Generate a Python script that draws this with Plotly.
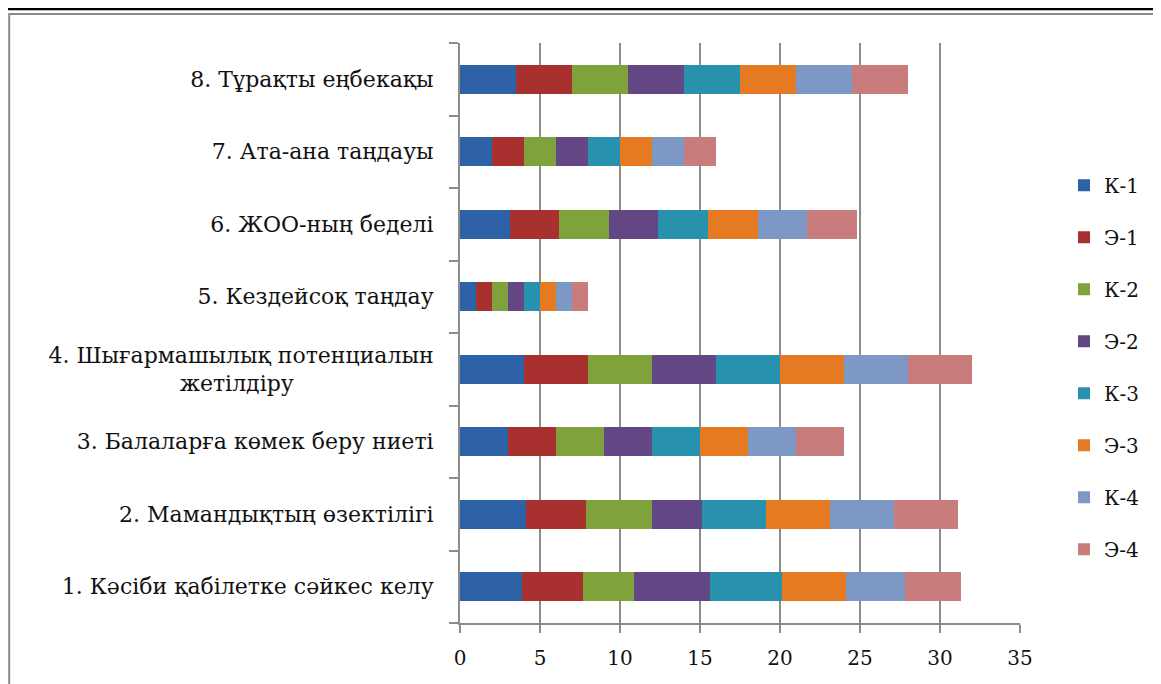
import plotly.graph_objects as go

categories = [
    "1. Кәсіби қабілетке сәйкес келу",
    "2. Мамандықтың өзектілігі",
    "3. Балаларға көмек беру ниеті",
    "4. Шығармашылық потенциалын<br>жетілдіру" + "\u00a0" * 20,
    "5. Кездейсоқ таңдау",
    "6. ЖОО-ның беделі",
    "7. Ата-ана таңдауы",
    "8. Тұрақты еңбекақы",
]

series_names = ["К-1", "Э-1", "К-2", "Э-2", "К-3", "Э-3", "К-4", "Э-4"]

k1 = [3.9, 4.1, 3, 4, 1, 3.1, 2, 3.5]
e1 = [3.8, 3.8, 3, 4, 1, 3.1, 2, 3.5]
k2 = [3.2, 4.1, 3, 4, 1, 3.1, 2, 3.5]
e2 = [4.7, 3.1, 3, 4, 1, 3.1, 2, 3.5]
k3 = [4.5, 4.0, 3, 4, 1, 3.1, 2, 3.5]
e3 = [4.0, 4.0, 3, 4, 1, 3.1, 2, 3.5]
k4 = [3.7, 4.0, 3, 4, 1, 3.1, 2, 3.5]
e4 = [3.5, 4.0, 3, 4, 1, 3.1, 2, 3.5]

colors = ["#2E62A6", "#A8302F", "#7FA23A", "#634684",
          "#2891AE", "#E57A22", "#7E98C6", "#C97C7C"]

values = [k1, e1, k2, e2, k3, e3, k4, e4]

FONT = "DejaVu Serif, Liberation Serif, serif"

fig = go.Figure()
for name, vals, col in zip(series_names, values, colors):
    fig.add_trace(go.Bar(
        y=categories, x=vals, name=name, orientation="h",
        marker=dict(color=col, line=dict(width=0)),
        legendgroup=name,
    ))

fig.update_layout(
    width=1161, height=684,
    barmode="stack",
    bargap=0.6,
    paper_bgcolor="white",
    plot_bgcolor="white",
    margin=dict(l=452, r=149, t=35, b=69),
    font=dict(family=FONT, size=20, color="#111111"),
    showlegend=True,
    legend=dict(
        x=1.0786, xanchor="left", y=0.441, yanchor="middle",
        traceorder="grouped", tracegroupgap=23,
        font=dict(family=FONT, size=20, color="#111111"),
        bgcolor="rgba(0,0,0,0)",
    ),
    xaxis=dict(
        range=[0, 35], dtick=5, tick0=0,
        showgrid=True, gridcolor="#8C8C8C", gridwidth=2,
        zeroline=False,
        showline=True, linecolor="#8C8C8C", linewidth=2,
        ticks="outside", ticklen=8, tickwidth=2, tickcolor="#8C8C8C",
        ticklabelstandoff=8,
        tickfont=dict(family=FONT, size=20, color="#111111"),
        fixedrange=True,
    ),
    yaxis=dict(
        type="category",
        showgrid=False, zeroline=False,
        showline=True, linecolor="#8C8C8C", linewidth=2,
        ticks="outside", ticklen=9, tickwidth=2, tickcolor="#8C8C8C",
        tickson="boundaries",
        ticklabelstandoff=20,
        tickfont=dict(family=FONT, size=22, color="#111111"),
        fixedrange=True,
    ),
    shapes=[
        dict(type="rect", xref="paper", yref="paper",
             x0=-0.805, x1=1.3, y0=-0.15, y1=1.05,
             line=dict(color="#8C8C8C", width=2), fillcolor="rgba(0,0,0,0)",
             layer="below"),
        dict(type="rect", xref="paper", yref="paper",
             x0=-0.83, x1=1.3, y0=1.0565, y1=1.062,
             line=dict(width=0), fillcolor="#000000", layer="above"),
    ],
)

fig.write_html("out.html")
